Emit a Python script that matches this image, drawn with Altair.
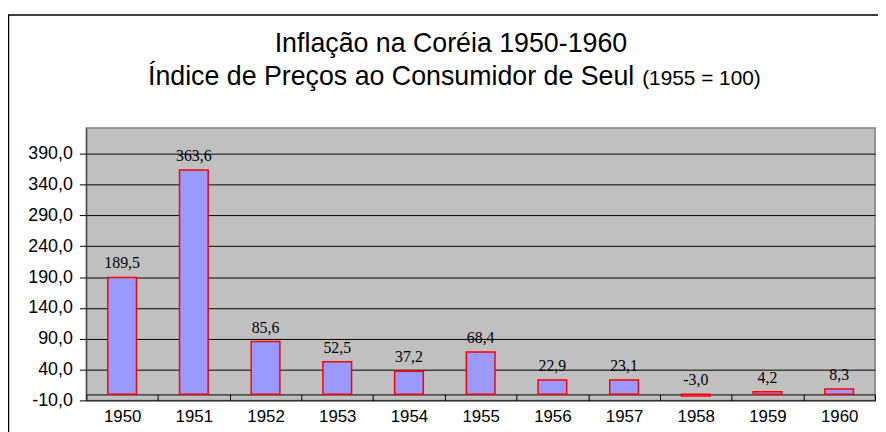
import altair as alt
import pandas as pd

years = ["1950", "1951", "1952", "1953", "1954", "1955", "1956", "1957", "1958", "1959", "1960"]
values = [189.5, 363.6, 85.6, 52.5, 37.2, 68.4, 22.9, 23.1, -3.0, 4.2, 8.3]
y_ticks = [-10, 40, 90, 140, 190, 240, 290, 340, 390]
title_line1 = "Inflação na Coréia 1950-1960"
title_line2 = "Índice de Preços ao Consumidor de Seul"
title_note = "(1955 = 100)"

df = pd.DataFrame({
    "ano": years,
    "valor": values,
    "rotulo": [f"{v:.1f}".replace(".", ",") for v in values],
})

W, H = 796, 275
FONT = "Liberation Sans"

x_enc = alt.X(
    "ano:N",
    sort=years,
    scale=alt.Scale(paddingInner=0, paddingOuter=0),
    axis=alt.Axis(
        title=None, labelAngle=0, orient="bottom", offset=-6,
        tickBand="extent", tickSize=6, tickColor="black",
        domainColor="black", labelFont=FONT, labelFontSize=17,
        labelColor="black", labelPadding=8, grid=False,
    ),
)
y_scale = alt.Scale(domain=[-10, 432], nice=False, zero=False)

bars = alt.Chart(df).mark_bar(
    width=alt.RelativeBandSize(0.4), color="#9999FF", stroke="#FF0000", strokeWidth=1.5
).encode(
    x=x_enc,
    y=alt.Y(
        "valor:Q", scale=y_scale,
        axis=alt.Axis(
            title=None, values=y_ticks, tickCount=40, grid=True, gridColor="black", gridOpacity=1,
            tickColor="black", tickSize=7, domainColor="#333333",
            labelFont=FONT, labelFontSize=18, labelColor="black", labelPadding=7,
            labelOverlap=False, labelFlush=False,
            labelExpr="replace(replace(format(datum.value, '.1f'), '.', ','), '\u2212', '-')",
        ),
    ),
    y2=alt.datum(0),
)

labels = alt.Chart(df).transform_calculate(
    topo="max(datum.valor, 0)"
).mark_text(
    font="Liberation Serif", fontSize=16, color="black", baseline="middle", dy=-14
).encode(
    x=alt.X("ano:N", sort=years),
    y=alt.Y("topo:Q", scale=y_scale),
    text="rotulo:N",
)

deco = pd.DataFrame({"k": [0]})
frame = alt.Chart(deco).mark_rect(
    fill=None, stroke="black", strokeWidth=1.5
).encode(
    x=alt.value(-78.5), x2=alt.value(830), y=alt.value(-114), y2=alt.value(400)
)
t1 = alt.Chart(deco).mark_text(
    text=title_line1, font=FONT, fontSize=27, color="black", align="center", baseline="alphabetic"
).encode(x=alt.value(368), y=alt.value(-77))
t2 = alt.Chart(deco).mark_text(
    text=title_line2, font=FONT, fontSize=27, color="black", align="right", baseline="alphabetic"
).encode(x=alt.value(553), y=alt.value(-43))
t3 = alt.Chart(deco).mark_text(
    text=title_note, font=FONT, fontSize=21, color="black", align="left", baseline="alphabetic"
).encode(x=alt.value(561), y=alt.value(-43))

chart = alt.layer(bars, labels, frame, t1, t2, t3).properties(
    width=W, height=H,
    autosize=alt.AutoSizeParams(type="none"),
    padding={"left": 79, "top": 119, "right": 3, "bottom": 40},
    background="white",
).configure_view(
    fill="#C0C0C0", stroke="#808080", strokeWidth=1.5
)

chart.save("out.html", embed_options={"renderer": "svg", "actions": False})
